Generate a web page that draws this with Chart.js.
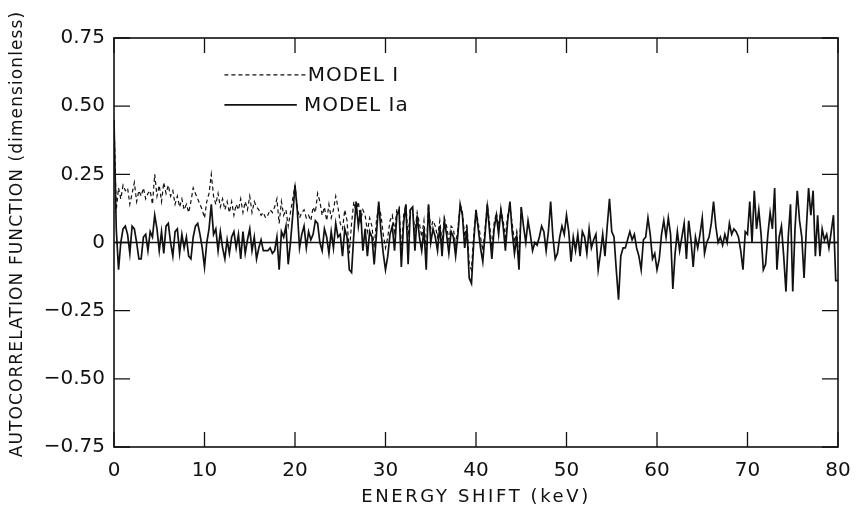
<!DOCTYPE html>
<html>
<head>
<meta charset="utf-8">
<script src="https://cdn.jsdelivr.net/npm/chart.js@4/dist/chart.umd.min.js"></script>
<style>
html,body{margin:0;padding:0;background:#fff;}
canvas{display:block;}
</style>
</head>
<body>
<canvas id="c" width="857" height="512"></canvas>
<script>
// Energy grid: 0.25 keV sampling
const STEP_KEV = 0.25;
const xTicks = [0, 10, 20, 30, 40, 50, 60, 70, 80];
const yTicks = [-0.75, -0.5, -0.25, 0, 0.25, 0.5, 0.75];
const seriesNames = ['MODEL I', 'MODEL Ia'];

// MODEL I (dashed), 0 .. 45 keV
const modelI = [
  0.45, 0.12, 0.20, 0.16,  0.21, 0.19, 0.20, 0.14,  0.18, 0.22, 0.15, 0.19,  0.17, 0.20, 0.16, 0.18,
  0.19, 0.14, 0.25, 0.17,  0.21, 0.15, 0.22, 0.18,  0.21, 0.17, 0.19, 0.14,  0.17, 0.13, 0.16, 0.12,
  0.14, 0.11, 0.15, 0.20,  0.18, 0.16, 0.14, 0.12,  0.09, 0.15, 0.18, 0.25,  0.17, 0.14, 0.18, 0.13,
  0.16, 0.12, 0.15, 0.11,  0.15, 0.10, 0.14, 0.12,  0.16, 0.11, 0.15, 0.12,  0.17, 0.11, 0.15, 0.13,
  0.12, 0.10, 0.11, 0.09,  0.10, 0.12, 0.11, 0.13,  0.16, 0.07, 0.15, 0.10,  0.12, 0.06, 0.11, 0.16,
  0.21, 0.13, 0.09, 0.11,  0.12, 0.09, 0.10, 0.08,  0.13, 0.11, 0.18, 0.15,  0.10, 0.13, 0.08, 0.14,
  0.09, 0.12, 0.17, 0.13,  0.07, 0.05, 0.12, 0.08, -0.04, 0.07, 0.15, 0.11,  0.15, 0.08, 0.12, 0.10,
  0.04, 0.09, 0.06, -0.02, 0.08, 0.14, 0.10, 0.03, -0.02, 0.02, 0.08, 0.10,  0.04, 0.12, 0.13, -0.03,
  0.10, 0.14, 0.02, 0.13,  0.12, 0.04, 0.11, 0.07,  0.02, 0.08, -0.04, 0.14, 0.05, 0.08, 0.06, 0.02,
  0.08, 0.00, 0.09, 0.06,  0.01, 0.06, 0.05, -0.01, 0.05, 0.14, 0.11, 0.02,  0.07, -0.08, -0.10, 0.03,
  0.12, 0.07, 0.02, -0.03, 0.05, 0.14, 0.07, -0.02, 0.07, 0.11, 0.06, 0.12,  0.08, 0.02, 0.10, 0.13,
  0.07, 0.00, 0.04, -0.06, 0.13
];

// MODEL Ia (solid), 0 .. 80 keV
const modelIa = [
  0.45, 0.05, -0.10, 0.00,  0.05, 0.06, 0.03, -0.04,  0.06, 0.05, 0.00, -0.06, -0.06, 0.02, 0.03, -0.03,
  0.04, 0.02, 0.10, 0.05, -0.03, 0.04, -0.04, 0.06,  0.07, 0.00, -0.05, 0.04,  0.05, -0.04, 0.03, -0.02,
  0.02, -0.05, -0.06, 0.02, 0.06, 0.07, 0.03, -0.02, -0.09, 0.00, 0.05, 0.14,  0.03, 0.05, -0.03, 0.04,
 -0.02, -0.06, 0.01, -0.04, 0.02, 0.04, -0.02, 0.03, -0.06, 0.04, -0.04, 0.01,  0.05, -0.03, 0.02, -0.06,
 -0.02, 0.01, -0.03, -0.03, -0.03, -0.02, -0.04, -0.03, 0.02, -0.10, 0.04, 0.02, 0.06, -0.08, 0.00, 0.10,
  0.21, 0.12, -0.02, 0.03,  0.06, -0.02, 0.04, 0.01,  0.03, 0.08, 0.07, 0.00, -0.03, 0.05, 0.02, -0.04,
  0.04, -0.02, 0.07, 0.02,  0.03, -0.05, 0.05, 0.02, -0.10, -0.11, 0.03, 0.15,  0.06, 0.12, -0.03, 0.05,
 -0.05, 0.04, 0.02, -0.08,  0.03, 0.15, 0.04, -0.04, -0.10, -0.05, 0.03, 0.06, -0.03, 0.10, 0.12, -0.09,
  0.07, 0.14, -0.08, 0.12,  0.13, -0.03, 0.10, 0.02, -0.03, 0.05, -0.10, 0.14,  0.00, 0.05, 0.02, -0.03,
  0.06, -0.05, 0.08, 0.03, -0.04, 0.04, 0.02, -0.05,  0.03, 0.14, 0.10, -0.02,  0.05, -0.13, -0.15, 0.00,
  0.12, 0.05, -0.02, -0.07, 0.03, 0.14, 0.04, -0.06,  0.05, 0.10, 0.03, 0.12,  0.06, -0.03, 0.08, 0.15,
  0.04, -0.04, 0.02, -0.10, 0.13, 0.06, 0.00, 0.08,  0.03, -0.03, 0.00, -0.01, 0.02, 0.06, 0.04, -0.03,
  0.04, 0.15, 0.02, -0.06, -0.04, 0.02, 0.06, 0.03,  0.10, 0.04, -0.07, 0.02, -0.03, 0.03, -0.05, 0.04,
  0.02, -0.04, 0.05, -0.02, 0.01, 0.03, -0.10, -0.04, 0.03, -0.05, 0.06, 0.16,  0.04, 0.02, -0.10, -0.21,
 -0.05, -0.02, -0.02, 0.01, 0.04, 0.01, 0.03, -0.02, -0.05, -0.10, 0.01, 0.02,  0.09, 0.03, -0.06, -0.04,
 -0.10, -0.06, 0.03, 0.08,  0.02, 0.09, 0.03, -0.17, -0.04, 0.04, -0.03, 0.02,  0.07, -0.06, 0.08, 0.01,
 -0.09, 0.02, -0.02, 0.03,  0.09, -0.04, 0.00, 0.02,  0.07, 0.15, 0.06, 0.00,  0.02, -0.01, 0.03, 0.00,
  0.07, 0.03, 0.05, 0.04,  0.02, -0.03, -0.10, 0.04,  0.03, 0.15, 0.00, 0.19,  0.05, 0.12, 0.03, -0.10,
 -0.08, 0.03, 0.11, 0.05,  0.20, -0.10, 0.02, 0.06, -0.05, -0.18, 0.02, 0.14, -0.18, 0.05, 0.19, 0.08,
  0.02, -0.13, 0.05, 0.20,  0.10, 0.19, -0.05, 0.10, -0.05, 0.05, 0.01, 0.03, -0.02, 0.04, 0.10, -0.14,
 -0.14
];

const toPoints = arr => arr.map((v, i) => ({ x: i * STEP_KEV, y: v }));

const INK = '#111';
const FONT = '"DejaVu Sans", sans-serif';

const framePlugin = {
  id: 'frame',
  afterDatasetsDraw(chart) {
    const { ctx, chartArea: a, scales: { x, y } } = chart;
    ctx.save();
    ctx.strokeStyle = INK;
    ctx.lineWidth = 1.6;
    // zero line
    const y0 = y.getPixelForValue(0);
    ctx.beginPath(); ctx.moveTo(a.left, y0); ctx.lineTo(a.right, y0); ctx.stroke();
    // frame
    ctx.strokeRect(a.left, a.top, a.right - a.left, a.bottom - a.top);
    // inward ticks
    ctx.lineWidth = 1.3;
    const tl = 15;
    xTicks.forEach(v => {
      const px = x.getPixelForValue(v);
      ctx.beginPath();
      ctx.moveTo(px, a.bottom); ctx.lineTo(px, a.bottom - tl);
      ctx.moveTo(px, a.top); ctx.lineTo(px, a.top + tl);
      ctx.stroke();
    });
    yTicks.forEach(v => {
      const py = y.getPixelForValue(v);
      ctx.beginPath();
      ctx.moveTo(a.left, py); ctx.lineTo(a.left + 16, py);
      ctx.moveTo(a.right, py); ctx.lineTo(a.right - 16, py);
      ctx.stroke();
    });
    // legend
    const ds = chart.data.datasets;
    const items = [
      { ds: ds[0], y: y.getPixelForValue(0.615), x1: x.getPixelForValue(12.2), x2: x.getPixelForValue(21.2), tx: x.getPixelForValue(21.4) },
      { ds: ds[1], y: y.getPixelForValue(0.505), x1: x.getPixelForValue(12.2), x2: x.getPixelForValue(20.2), tx: x.getPixelForValue(21.0) }
    ];
    ctx.font = '20px ' + FONT;
    ctx.fillStyle = INK;
    ctx.textBaseline = 'middle';
    ctx.textAlign = 'left';
    ctx.letterSpacing = '1px';
    items.forEach(it => {
      ctx.save();
      ctx.lineWidth = it.ds.borderWidth;
      ctx.setLineDash(it.ds.borderDash || []);
      ctx.beginPath(); ctx.moveTo(it.x1, it.y); ctx.lineTo(it.x2, it.y); ctx.stroke();
      ctx.restore();
      ctx.fillText(it.ds.label, it.tx, it.y + 1);
    });
    // axis titles
    ctx.font = '18px ' + FONT;
    ctx.textAlign = 'center';
    ctx.textBaseline = 'middle';
    ctx.letterSpacing = '2.6px';
    ctx.fillText('ENERGY SHIFT (keV)', (a.left + a.right) / 2, 497);
    ctx.save();
    ctx.translate(18, 234);
    ctx.rotate(-Math.PI / 2);
    ctx.font = '17px ' + FONT;
    ctx.letterSpacing = '1.1px';
    ctx.fillText('AUTOCORRELATION FUNCTION (dimensionless)', 0, 0);
    ctx.restore();
    ctx.restore();
  }
};

new Chart(document.getElementById('c'), {
  type: 'line',
  data: {
    datasets: [
      { label: seriesNames[0], data: toPoints(modelI), borderColor: INK, borderWidth: 1.2, borderDash: [4, 3], pointRadius: 0, tension: 0, fill: false },
      { label: seriesNames[1], data: toPoints(modelIa), borderColor: INK, borderWidth: 1.7, pointRadius: 0, tension: 0, fill: false }
    ]
  },
  options: {
    responsive: false,
    animation: false,
    devicePixelRatio: 1,
    layout: { padding: { top: 38, right: 19, left: 0, bottom: 0 } },
    plugins: { legend: { display: false }, tooltip: { enabled: false } },
    scales: {
      x: {
        type: 'linear', min: 0, max: 80,
        afterFit: s => { s.height = 65; s.paddingLeft = 0; s.paddingRight = 0; },
        afterBuildTicks: s => { s.ticks = xTicks.map(v => ({ value: v })); },
        ticks: { color: INK, font: { size: 20, family: FONT }, padding: 12, maxRotation: 0 },
        grid: { display: false, drawTicks: false },
        border: { display: false }
      },
      y: {
        type: 'linear', min: -0.75, max: 0.75,
        afterFit: s => { s.width = 114; s.paddingTop = 0; s.paddingBottom = 0; },
        afterBuildTicks: s => { s.ticks = yTicks.map(v => ({ value: v })); },
        ticks: {
          color: INK, font: { size: 20, family: FONT }, padding: 9,
          callback: v => v === 0 ? '0' : (v < 0 ? '\u2212' + Math.abs(v).toFixed(2) : v.toFixed(2))
        },
        grid: { display: false, drawTicks: false },
        border: { display: false }
      }
    }
  },
  plugins: [framePlugin]
});
</script>
</body>
</html>
